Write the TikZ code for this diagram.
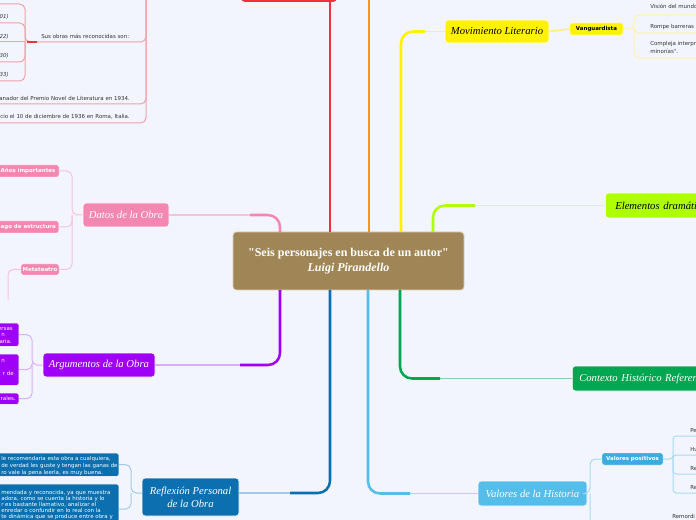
\documentclass[tikz,border=0pt]{standalone}
\usepackage{fontspec}
\setmainfont{Liberation Serif}
\newfontfamily\rootfont{Liberation Serif}[Ligatures=TeXOff]
\newfontfamily\dejavu{DejaVu Sans}
\usetikzlibrary{calc}
\definecolor{bgc}{HTML}{F3F5FE}
\definecolor{txt}{HTML}{333333}
\definecolor{cbrown}{HTML}{A08657}
\definecolor{cred}{HTML}{EE3239}
\definecolor{credl}{HTML}{F3A0A7}
\definecolor{corange}{HTML}{F7941D}
\definecolor{cyellow}{HTML}{FFF200}
\definecolor{cyellowl}{HTML}{FFF07A}
\definecolor{cyellows}{HTML}{FFF2A8}
\definecolor{clime}{HTML}{AEFF00}
\definecolor{climel}{HTML}{DDF6B4}
\definecolor{cgreen}{HTML}{00A650}
\definecolor{cgreenl}{HTML}{86D2A8}
\definecolor{clblue}{HTML}{55BDEA}
\definecolor{clbluel}{HTML}{A6DAF2}
\definecolor{cpos}{HTML}{3DAAE0}
\definecolor{cdblue}{HTML}{0C6FB0}
\definecolor{cdbluel}{HTML}{A3C9E7}
\definecolor{cpurple}{HTML}{9E00F8}
\definecolor{cpurplel}{HTML}{D8AEF8}
\definecolor{cpink}{HTML}{F387B1}
\definecolor{cpinkl}{HTML}{F7C2D9}
\begin{document}
\begin{tikzpicture}[x=0.75pt,y=-0.75pt,
  sm/.style={font=\dejavu\fontsize{4.1}{5.2}\selectfont, inner sep=0pt, text=txt},
  smw/.style={font=\dejavu\fontsize{4.1}{5.2}\selectfont, inner sep=0pt, text=white},
  smb/.style={font=\dejavu\bfseries\fontsize{4.1}{5.2}\selectfont, inner sep=0pt},
  smi/.style={font=\dejavu\itshape\fontsize{4.1}{5.2}\selectfont, inner sep=0pt, text=txt},
  topic/.style={rounded corners=2.5pt, draw=white, line width=0.4pt, inner sep=0pt, font=\itshape\fontsize{8}{9.75}\selectfont},
  box/.style={rounded corners=1.5pt, draw=white, line width=0.3pt, inner sep=0pt},
  strongl/.style={line width=1.9pt, rounded corners=9pt},
  lightl/.style={line width=1.2pt},
  subl/.style={line width=0.75pt, rounded corners=4pt},
]
\useasboundingbox (0,0) rectangle (696,520);
\fill[bgc] (0,0) rectangle (696,520);
\clip (0,0) rectangle (696,520);

% ---------- nodes ----------
\node[fill=cbrown, rounded corners=2.5pt, draw=white!60!cbrown, line width=0.5pt,
      minimum width=173.25pt, minimum height=43.5pt, inner sep=0pt, text=white, align=center,
      font=\rootfont\bfseries\fontsize{9}{11.25}\selectfont] (root) at (348.5,261)
      {"Seis personajes en busca de un autor"\\{\itshape Luigi Pirandello}};
\node[fill=cred, rounded corners=3pt, minimum width=72pt, minimum height=20.25pt] (bio) at (289,-11.5) {};
\node[topic, fill=cyellow, text=black, minimum width=78pt, minimum height=17.25pt] (mov) at (497,31.5) {Movimiento Literario};
\node[box, fill=cyellow, text=black, smb, minimum width=39.75pt, minimum height=9pt] (vang) at (596.5,29) {Vanguardista};
\node[topic, fill=clime, text=black, anchor=west, minimum height=18.75pt, inner xsep=7.5pt, text width=110pt, align=left] (elem) at (605,205.5) {Elementos dramátic};
\node[topic, fill=cgreen, text=white, anchor=west, minimum height=18.75pt, inner xsep=5.25pt, text width=110pt, align=left] (ctx) at (572,378.5) {Contexto Histórico Referenc};
\node[topic, fill=clblue, text=white, minimum width=81.75pt, minimum height=18.75pt] (valores) at (532.5,493.5) {Valores de la Historia};
\node[box, fill=cpos, text=white, smb, minimum width=45.75pt, minimum height=9pt] (vpos) at (632.5,459) {Valores positivos};
\node[topic, fill=cdblue, text=white, minimum width=72.75pt, minimum height=28.5pt, align=center] (refl) at (190.5,497) {Reflexión Personal\\de la Obra};
\node[topic, fill=cpurple, text=white, minimum width=84pt, minimum height=18pt] (arg) at (99,365) {Argumentos de la Obra};
\node[topic, fill=cpink, text=white, minimum width=64.5pt, minimum height=18pt] (datos) at (126,215) {Datos de la Obra};

% pink children
\node[box, fill=cpink, text=white, smb, minimum width=46.5pt, minimum height=9pt] (anos) at (28,171) {Años importantes};
\node[box, fill=cpink, text=white, smb, anchor=east, minimum height=9pt, inner xsep=2.25pt] (rasgo) at (59,227) {ago de estructura};
\node[box, fill=cpink, text=white, smb, minimum width=28.5pt, minimum height=8.25pt] (meta) at (40,269.5) {Metateatro};

% purple children
\node[box, fill=cpurple, anchor=north east, minimum width=22.5pt, minimum height=17.25pt] (pb1) at (19,323) {};
\node[box, fill=cpurple, anchor=north east, minimum width=22.5pt, minimum height=23.25pt] (pb2) at (19,354) {};
\node[box, fill=cpurple, anchor=north east, minimum width=22.5pt, minimum height=8.25pt] (pb3) at (19,393) {};
\node[smw, anchor=base east] (pt1) at (13,330) {ersas};
\node[smw, anchor=base east] (pt2) at (5,336) {n};
\node[smw, anchor=base east] (pt3) at (12,344) {aria.};
\node[smw, anchor=base east] (pt4) at (5,362) {n};
\node[smw, anchor=base east] (pt5) at (14,375) {r de};
\node[smw, anchor=base east] (pt6) at (16,400) {rales.};

% reflexion children
\node[box, fill=cdblue, anchor=north east, minimum width=101.25pt, minimum height=17.25pt] (rb1) at (119,453) {};
\node[box, fill=cdblue, anchor=north east, minimum width=101.25pt, minimum height=36pt] (rb2) at (119,484) {};
\node[smw, anchor=base west] (rt1) at (1,460) {le recomendaría esta obra a cualquiera,};
\node[smw, anchor=base west] (rt2) at (1,467) {de verdad les guste y tengan las ganas de};
\node[smw, anchor=base west] (rt3) at (1,474) {ro vale la pena leerla, es muy buena.};
\node[smw, anchor=base west] (rt4) at (1,494) {mendada y reconocida, ya que muestra};
\node[smw, anchor=base west] (rt5) at (1,500) {adora, como se cuenta la historia y lo};
\node[smw, anchor=base west] (rt6) at (1,506) {r es bastante llamativo, analizar  el};
\node[smw, anchor=base west] (rt7) at (1,512) {enredar  o confundir en lo real con la};
\node[smw, anchor=base west] (rt8) at (1,518) {te dinámica que se produce entre obra y};

% red children texts
\node[sm, anchor=base west] (obras) at (41,39) {Sus obras más reconocidas son:};
\node[sm, anchor=base east] (ganador) at (130,101) {anador del Premio Novel de Literatura en 1934.};
\node[sm, anchor=base east] (fallecio) at (130,119) {cio el 10 de diciembre de 1936 en Roma, Italia.};
\node[smi, anchor=base east] (o1) at (9,19) {01)};
\node[smi, anchor=base east] (o2) at (9,39) {22)};
\node[smi, anchor=base east] (o3) at (9,58) {30)};
\node[smi, anchor=base east] (o4) at (9,77) {33)};

% right texts
\node[sm, anchor=base west] (v1) at (650,9) {Visión del mundo};
\node[sm, anchor=base west] (v2) at (650,29) {Rompe barreras};
\node[sm, anchor=base west, align=left] (v3) at (650,46) {Compleja interpr};
\node[sm, anchor=base west] (v3b) at (650,54) {minorías".};
\node[sm, anchor=base west] (p1) at (690,432) {Pe};
\node[sm, anchor=base west] (p2) at (690,451) {Hu};
\node[sm, anchor=base west] (p3) at (690,470) {Re};
\node[sm, anchor=base west] (p4) at (690,489) {Re};
\node[sm, anchor=base west] (rem) at (672,518) {Remordi};

% ---------- coordinates ----------
\coordinate (rpink) at (280,232);   \coordinate (mpink) at (250,215);
\coordinate (rpurple) at (280,290); \coordinate (mpurple) at (240,365);
\coordinate (rdblue) at (330,290);  \coordinate (mdblue) at (290,493);
\coordinate (rlblue) at (368,290);  \coordinate (mlblue) at (410,493.5);
\coordinate (rgreen) at (400,290);  \coordinate (mgreen) at (440,378.5);
\coordinate (rlime) at (433,232);   \coordinate (mlime) at (475,205.5);
\coordinate (ryellow) at (401,232); \coordinate (myellow) at (425,31.5);
\coordinate (rred) at (330,232);
\coordinate (rorange) at (369,232); \coordinate (torange) at (369,-5);
\coordinate (reflin) at (239,493);

% ---------- main connectors ----------
\draw[cred, line width=1.9pt] (rred) -- (rred |- bio.south);
\draw[corange, line width=1.9pt] (rorange) -- (torange);
\draw[cpinkl, lightl] (mpink) -- (datos.east);
\draw[cpink, strongl] (rpink) |- (mpink);
\draw[cpurplel, lightl] (mpurple) -- (arg.east);
\draw[cpurple, strongl] (rpurple) |- (mpurple);
\draw[cdbluel, lightl] (mdblue) -- (reflin);
\draw[cdblue, strongl] (rdblue) |- (mdblue);
\draw[clbluel, lightl] (mlblue) -- (valores.west);
\draw[clblue, strongl] (rlblue) |- (mlblue);
\draw[cgreenl, lightl] (mgreen) -- (ctx.west);
\draw[cgreen, strongl] (rgreen) |- (mgreen);
\draw[climel, lightl] (mlime) -- (elem.west);
\draw[clime, strongl] (rlime) |- (mlime);
\draw[cyellowl, lightl] (myellow) -- (mov.west);
\draw[cyellow, strongl] (ryellow) |- (myellow);
\draw[cyellowl, lightl] (mov.east) -- (vang.west);

% ---------- red sub-branches ----------
\coordinate (bv) at (146,20);
\coordinate (obl) at (37,42);
\coordinate (gl) at (-5,104);
\coordinate (fl) at (-5,123);
\draw[credl, subl] (bio.west) -| (bv) |- (obl);
\draw[credl, subl] (bio.west) -| (bv) |- (gl);
\draw[credl, subl] (bio.west) -| (bv) |- (fl);
\coordinate (obh) at (25,42);
\coordinate (ob0) at (-5,4);
\coordinate (ob1) at (-5,23);
\coordinate (ob2) at (-5,42);
\coordinate (ob3) at (-5,62);
\coordinate (ob4) at (-5,81);
\draw[credl, subl] (obl) -- (obh) |- (ob0);
\draw[credl, subl] (obh) |- (ob1);
\draw[credl, subl] (obh) -- (ob2);
\draw[credl, subl] (obh) |- (ob3);
\draw[credl, subl] (obh) |- (ob4);
\draw[cred, line width=1pt] ($(obh)+(2,0)$) -- (obl);

% ---------- pink sub-branches ----------
\coordinate (dh) at (72,215);
\draw[cpinkl, subl] (datos.west) -- (dh) |- (anos.east);
\draw[cpinkl, subl] (dh) |- (rasgo.east);
\draw[cpinkl, subl] (dh) |- (meta.east);
\coordinate (mdown) at (8,300);
\draw[cpinkl, subl] (meta.west) -| (mdown);

% ---------- purple sub-branches ----------
\coordinate (ah) at (32,365);
\draw[cpurplel, subl] (arg.west) -- (ah) |- (pb1.east);
\draw[cpurplel, subl] (ah) |- (pb2.east);
\draw[cpurplel, subl] (ah) |- (pb3.east);

% ---------- reflexion sub-branches ----------
\coordinate (rh) at (131,493);
\coordinate (rfw) at (142,493);
\coordinate (rb2c) at (119,509);
\draw[cdbluel, subl] (rfw) -- (rh) |- (rb1.east);
\draw[cdbluel, subl] (rh) |- (rb2c);

% ---------- vanguardista sub-branches ----------
\coordinate (vh) at (634,29);
\coordinate (vl1) at (700,15);
\coordinate (vl2) at (700,33);
\coordinate (vl3) at (700,58);
\draw[cyellows, subl] (vang.east) -- (vh) |- (vl1);
\draw[cyellows, subl] (vh) |- (vl2);
\draw[cyellows, subl] (vh) |- (vl3);

% ---------- valores sub-branches ----------
\coordinate (vvh) at (590,493.5);
\coordinate (vneg) at (610,560);
\draw[clbluel, subl] (valores.east) -- (vvh) |- (vpos.west);
\draw[clbluel, subl] (vvh) |- (vneg);
\coordinate (ph) at (673,459);
\coordinate (pl1) at (700,436);
\coordinate (pl2) at (700,455);
\coordinate (pl3) at (700,474);
\coordinate (pl4) at (700,493);
\draw[clbluel, line width=0.75pt, rounded corners=2.5pt] (vpos.east) -- (ph) |- (pl1);
\draw[clbluel, line width=0.75pt, rounded corners=2.5pt] (ph) |- (pl2);
\draw[clbluel, line width=0.75pt, rounded corners=2.5pt] (ph) |- (pl3);
\draw[clbluel, line width=0.75pt, rounded corners=2.5pt] (ph) |- (pl4);
\end{tikzpicture}
\end{document}
